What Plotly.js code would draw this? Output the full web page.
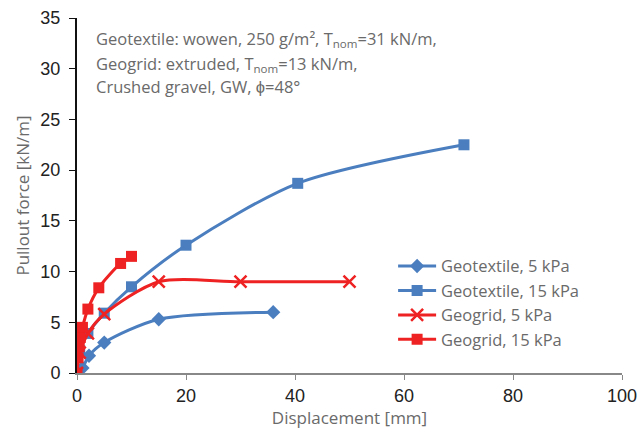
<!DOCTYPE html>
<html><head><meta charset="utf-8">
<script src="https://cdn.plot.ly/plotly-3.0.1.min.js"></script>
<style>body{margin:0;background:#fff}#c{width:639px;height:437px}</style>
</head><body><div id="c"></div>
<script>
const names = ["Geotextile, 5 kPa","Geotextile, 15 kPa","Geogrid, 5 kPa","Geogrid, 15 kPa"];
const gt5x = [0,1,2.2,5,15,36];
const gt5y = [0,0.5,1.7,3.0,5.3,6.0];
const gt15x = [0,0.5,2,5,10,20,40.5,71];
const gt15y = [0,2.2,3.9,5.9,8.5,12.6,18.7,22.5];
const gg5x = [0,0.5,2,5,15,30,50];
const gg5y = [0,2.0,3.9,5.8,9.0,9.0,9.0];
const gg15x = [0,0.2,0.4,0.6,1,2,4,8,10];
const gg15y = [0,1.5,2.6,3.5,4.5,6.3,8.4,10.8,11.5];
const xTicks = [0,20,40,60,80,100];
const yTicks = [0,5,10,15,20,25,30,35];
const noteLines = [
  "Geotextile: wowen, 250 g/m², T<sub>nom</sub>=31 kN/m,",
  "Geogrid: extruded, T<sub>nom</sub>=13 kN/m,",
  "Crushed gravel, GW, ϕ=48°"
];

const blue = "#4a7ebf", red = "#ee2222";
const mk = (x,y,name,color,symbol,size)=>({x,y,name,type:"scatter",mode:"lines+markers",
  line:{color,width:3,shape:"spline",smoothing:0.8},
  marker:{color,symbol,size,line:{color,width:symbol==="x-thin"?2.5:0}}});
const data = [
  mk(gt5x,gt5y,names[0],blue,"diamond",11),
  mk(gt15x,gt15y,names[1],blue,"square",11),
  mk(gg5x,gg5y,names[2],red,"x-thin",12),
  mk(gg15x,gg15y,names[3],red,"square",11)
];
const tf = {family:"Liberation Sans, Arial, sans-serif",size:18,color:"#222"};
const gray = "#6a6a6a";
const gf = {family:"Open Sans, sans-serif",size:17,color:gray};
const lineY = [0.940,0.870,0.806];
const layout = {
  width:639,height:437,margin:{l:77,r:17,t:18,b:64},
  paper_bgcolor:"#fff",plot_bgcolor:"#fff",showlegend:true,
  xaxis:{range:[0,100],tickvals:xTicks,ticks:"outside",ticklen:5,tickcolor:"#888",
    showline:true,linecolor:"#888",linewidth:2,showgrid:false,zeroline:false,tickfont:tf,
    title:{text:"Displacement [mm]",font:gf,standoff:4}},
  yaxis:{range:[0,35],tickvals:yTicks,ticks:"outside",ticklen:6,tickcolor:"#111",ticklabelstandoff:5,
    showline:true,linecolor:"#111",linewidth:2,showgrid:false,zeroline:false,tickfont:tf,
    title:{text:"Pullout force [kN/m]",font:gf,standoff:6}},
  legend:{x:0.58,y:0.35,xanchor:"left",yanchor:"top",font:{family:"Open Sans, sans-serif",size:16.5,color:gray},
    bgcolor:"rgba(0,0,0,0)",tracegroupgap:0,itemwidth:38},
  annotations:noteLines.map((t,i)=>({xref:"paper",yref:"paper",x:0.031,y:lineY[i],xanchor:"left",yanchor:"middle",align:"left",
    showarrow:false,text:t,font:{family:"Open Sans, sans-serif",size:16.5,color:gray}}))
};
Plotly.newPlot("c",data,layout,{displayModeBar:false,staticPlot:true});
</script></body></html>
